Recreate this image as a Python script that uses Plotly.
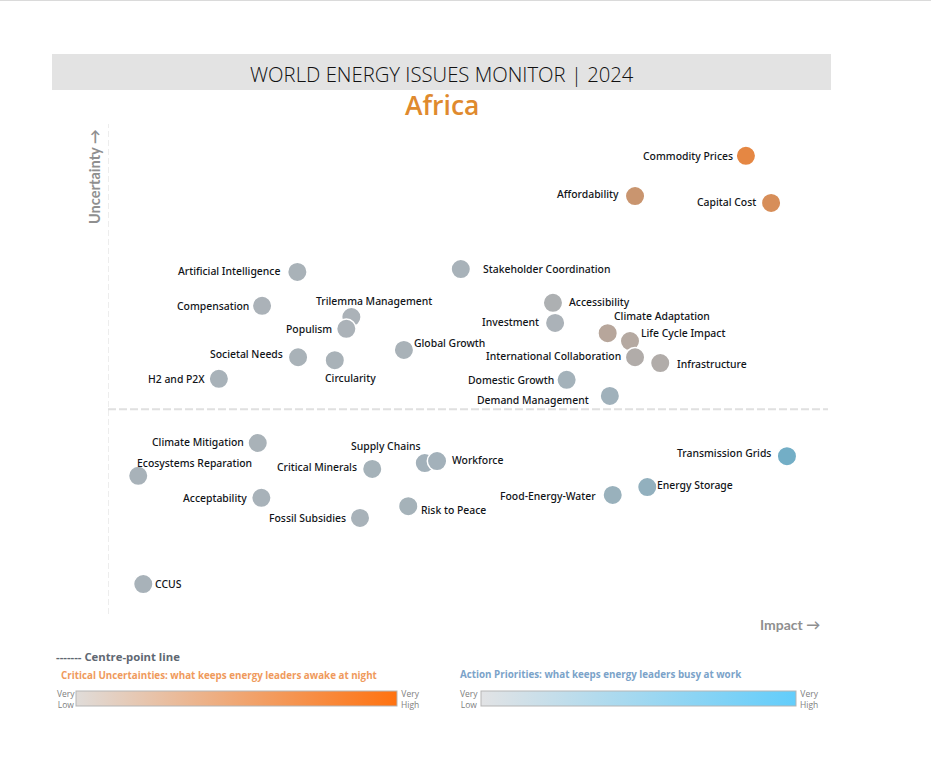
import plotly.graph_objects as go

# Issues (impact and uncertainty on a 0-100 scale)
issues = ['Commodity Prices', 'Affordability', 'Capital Cost', 'Artificial Intelligence',
          'Stakeholder Coordination', 'Compensation', 'Accessibility', 'Trilemma Management',
          'Populism', 'Investment', 'Climate Adaptation', 'Life Cycle Impact', 'Global Growth',
          'Societal Needs', 'Circularity', 'International Collaboration', 'Infrastructure',
          'H2 and P2X', 'Domestic Growth', 'Demand Management', 'Climate Mitigation',
          'Transmission Grids', 'Supply Chains', 'Workforce', 'Critical Minerals',
          'Ecosystems Reparation', 'Energy Storage', 'Food-Energy-Water', 'Acceptability',
          'Risk to Peace', 'Fossil Subsidies', 'CCUS']
impact = [88.6, 73.2, 92.1, 26.3, 49.0, 21.4, 61.8, 33.8, 33.1, 62.1, 69.4, 72.5, 41.1, 26.4, 31.5,
          73.2, 76.7, 15.4, 63.7, 69.7, 20.8, 94.3, 44.0, 45.7, 36.7, 4.2, 74.9, 70.1, 21.3, 41.7,
          35.0, 4.9]
uncertainty = [93.5, 85.3, 83.9, 69.8, 70.4, 62.9, 63.5, 60.6, 58.2, 59.4, 57.3, 55.7, 53.9, 52.4,
               51.8, 52.4, 51.2, 48.0, 47.8, 44.5, 34.9, 32.2, 30.8, 31.2, 29.6, 28.2, 25.9, 24.3,
               23.7, 22.0, 19.6, 6.1]
# -1 = action priority (blue), +1 = critical uncertainty (orange)
balance = [1.0, 0.5, 0.75, -0.03, -0.06, 0.0, 0.04, 0.0, 0.0, 0.0, 0.2, 0.16, -0.03, -0.03, -0.03,
           0.1, 0.1, -0.05, -0.12, -0.2, -0.03, -1.0, -0.15, -0.15, -0.1, -0.05, -0.45, -0.32, -0.05,
           -0.1, -0.05, -0.05]
centre_uncertainty = 41.8

# label placement: anchor, shift right, shift up (pixels)
label_place = {
    'Commodity Prices': ('right', -13, 0), 'Affordability': ('right', -16, 2),
    'Capital Cost': ('right', -15, 1), 'Artificial Intelligence': ('right', -17, 1),
    'Stakeholder Coordination': ('left', 22, 0), 'Compensation': ('right', -13, 0),
    'Accessibility': ('left', 16, 1), 'Trilemma Management': ('center', 23, 16),
    'Populism': ('right', -14, 0), 'Investment': ('right', -16, 1),
    'Climate Adaptation': ('left', 6, 17), 'Life Cycle Impact': ('left', 11, 8),
    'Global Growth': ('left', 10, 7), 'Societal Needs': ('right', -15, 3),
    'Circularity': ('center', 16, -18), 'International Collaboration': ('right', -14, 1),
    'Infrastructure': ('left', 17, -1), 'H2 and P2X': ('right', -14, 0),
    'Domestic Growth': ('right', -13, 0), 'Demand Management': ('right', -21, -4),
    'Climate Mitigation': ('right', -14, 1), 'Transmission Grids': ('right', -16, 3),
    'Supply Chains': ('right', -4, 17), 'Workforce': ('left', 15, 1),
    'Critical Minerals': ('right', -15, 2), 'Ecosystems Reparation': ('left', -1, 13),
    'Energy Storage': ('left', 10, 2), 'Food-Energy-Water': ('right', -17, -1),
    'Acceptability': ('right', -14, 0), 'Risk to Peace': ('left', 13, -4),
    'Fossil Subsidies': ('right', -14, 0), 'CCUS': ('left', 12, 0),
}
# annotation boxes carry about 2px of padding
box_pad = {'left': -2, 'right': 2, 'center': 0}

# plot area in page pixels
LEFT, RIGHT, TOP, BOTTOM = 108, 828, 124, 614
W, H = 931, 766


def px(x):
    return (x - LEFT) / (RIGHT - LEFT)


def py(y):
    return (BOTTOM - y) / (BOTTOM - TOP)


fig = go.Figure()

# centre lines
fig.add_trace(go.Scatter(x=[0, 100], y=[centre_uncertainty, centre_uncertainty], mode='lines',
                         line=dict(color='#e0e0e0', width=2, dash='8px,3px'), hoverinfo='skip'))
fig.add_trace(go.Scatter(x=[0, 0], y=[0, 100], mode='lines',
                         line=dict(color='#dcdcdc', width=1, dash='6px,3px'), hoverinfo='skip'))

# issues
fig.add_trace(go.Scatter(
    x=impact, y=uncertainty, mode='markers', text=issues,
    marker=dict(size=19.5, color=balance, cmin=-1, cmax=1,
                colorscale=[[0, '#73aec6'], [0.5, '#abb2b8'], [0.75, '#c9956f'], [1, '#e58743']],
                line=dict(color='white', width=1.5))
))

for name, x, y in zip(issues, impact, uncertainty):
    anchor, dx, dy = label_place[name]
    fig.add_annotation(x=x, y=y, text=name, showarrow=False, xanchor=anchor,
                       xshift=dx + box_pad[anchor], yshift=dy,
                       font=dict(family='Noto Sans', size=10.4, color='#111418', weight=500))


def legend_bar(x0, width, y, colors):
    # colour ramp drawn as the colorbar of an empty trace
    fig.add_trace(go.Scatter(
        x=[-50, -50], y=[-50, -50], mode='markers',
        marker=dict(size=1, color=[0, 1], cmin=0, cmax=1, colorscale=colors, showscale=True,
                    colorbar=dict(orientation='h', xref='paper', yref='paper',
                                  x=px(x0), xanchor='left', y=py(y), yanchor='top',
                                  len=width, lenmode='pixels', thickness=15,
                                  thicknessmode='pixels', ticks='', showticklabels=False,
                                  outlinecolor='#b5b5b5', outlinewidth=1, xpad=0, ypad=0))
    ))


legend_bar(76, 321, 691, [[0, '#e0dcd9'], [1, '#ff7210']])
legend_bar(481, 315, 691, [[0, '#e2e3e5'], [1, '#62cdfb']])


def note(x, y, text, size, color, family='Noto Sans', anchor='left', angle=0, weight=None):
    fig.add_annotation(x=px(x), y=py(y), xref='paper', yref='paper', text=text, showarrow=False,
                       xanchor=anchor, yanchor='middle', textangle=angle, xshift=box_pad[anchor],
                       font=dict(family=family, size=size, color=color, weight=weight))


note(442, 74, 'WORLD ENERGY ISSUES MONITOR | 2024', 20.3, '#111111', 'Open Sans', 'center', weight=300)
note(442, 105, 'Africa', 26.5, '#df8a2e', 'Open Sans', 'center', weight=550)
note(94, 177, '<b>Uncertainty →</b>', 14.6, '#8f8f8f', 'Lato', 'center', -90)
note(790, 624, '<b>Impact →</b>', 14, '#8f8f8f', 'Lato', 'center')
note(56, 656, '<b>------- Centre-point line</b>', 11.3, '#5f6872', 'Open Sans')
note(61, 675, '<b>Critical Uncertainties: what keeps energy leaders awake at night</b>', 9.8, '#ef9a5c', 'Open Sans')
note(460, 674, '<b>Action Priorities: what keeps energy leaders busy at work</b>', 9.8, '#7ba3c9', 'Open Sans')
for x, label in [(57, 'Very<br>Low'), (401, 'Very<br>High'), (460, 'Very<br>Low'), (800, 'Very<br>High')]:
    note(x, 699, label, 8.5, '#808080', 'Open Sans')

# header band and window edge
fig.add_shape(type='rect', xref='paper', yref='paper', x0=px(52), x1=px(831), y0=py(90), y1=py(54),
              fillcolor='#e3e3e3', line_width=0, layer='below')
fig.add_shape(type='line', xref='paper', yref='paper', x0=px(0), x1=px(931), y0=py(0.5), y1=py(0.5),
              line=dict(color='#dadada', width=1))

fig.update_layout(
    width=W, height=H, showlegend=False, template=None,
    margin=dict(l=LEFT, r=W - RIGHT, t=TOP, b=H - BOTTOM, pad=0),
    paper_bgcolor='white', plot_bgcolor='white',
    xaxis=dict(range=[0, 100], visible=False, fixedrange=True),
    yaxis=dict(range=[0, 100], visible=False, fixedrange=True),
)

# the page's default body margin would push the figure off by 8px
fig.write_html("out.html", config=dict(displayModeBar=False),
               post_script="document.body.style.margin = '0';")
